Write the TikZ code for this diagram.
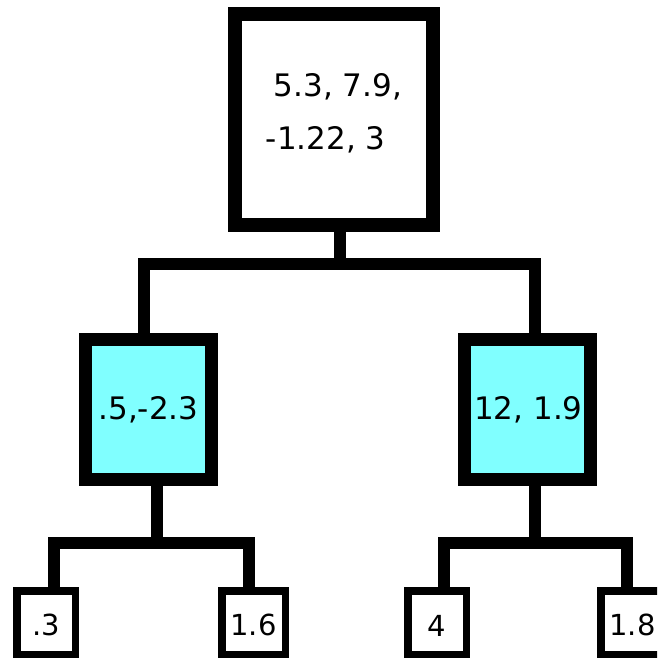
\documentclass[tikz,border=0pt]{standalone}
\usepackage{fontspec}
\setmainfont{DejaVu Sans}
\usetikzlibrary{positioning,calc}
\definecolor{splitcyan}{HTML}{80FFFF}
\tikzset{
  rootbox/.style={draw=black, line width=14pt, fill=white, minimum width=198pt,
                  minimum height=211pt, inner sep=0pt, align=left,
                  font=\fontsize{31}{53}\selectfont},
  splitbox/.style={draw=black, line width=13pt, fill=splitcyan, minimum width=126pt,
                   minimum height=140pt, inner sep=0pt, font=\fontsize{31}{38}\selectfont},
  leafbox/.style={draw=black, line width=7.5pt, fill=white, minimum height=63.5pt,
                  inner sep=0pt, font=\fontsize{29}{34}\selectfont},
  link/.style={draw=black, line width=12pt, line join=miter}}
\newcommand{\leafstrut}{\rule{0pt}{27pt}}

\begin{document}
\begin{tikzpicture}[x=1pt, y=-1pt]
    \useasboundingbox (0,0) rectangle (657,658);
    \clip (0,0) rectangle (657,658);
    % boxes
    \node[rootbox] (root) at (334,119.5)
      {\hspace{8pt}5.3, 7.9,\\-1.22, 3\rule[-17pt]{0pt}{0pt}};
    \node[splitbox] (lsplit) at (148.5,409.5) {.5,-2.3};
    \node[splitbox] (rsplit) at (527,409.5) {\hspace{3pt}12, 1.9};
    \node[leafbox, minimum width=58.5pt] (leafa) at (46,622.5) {\leafstrut.3};
    \node[leafbox, minimum width=63.5pt] (leafb) at (253.5,622.5) {\leafstrut1.6};
    \node[leafbox, minimum width=58.5pt] (leafc) at (437,622.5) {\leafstrut4};
    \node[leafbox, minimum width=63.5pt] (leafd) at (632.5,622.5) {\leafstrut1.8};
    % junctions of the elbow connectors
    \coordinate (j0) at (340,264);
    \coordinate (j1) at (157,543);
    \coordinate (j2) at (535,543);
    \draw[link] (root.south -| j0) -- (j0);
    \draw[link] ([xshift=-4.5pt]lsplit.north) |- (j0) -| ([xshift=8pt]rsplit.north);
    \draw[link] (lsplit.south -| j1) -- (j1);
    \draw[link] ([xshift=8pt]leafa.north) |- (j1) -| ([xshift=-4.5pt]leafb.north);
    \draw[link] (rsplit.south -| j2) -- (j2);
    \draw[link] ([xshift=7pt]leafc.north) |- (j2) -| ([xshift=-5.5pt]leafd.north);
  \end{tikzpicture}
\end{document}
